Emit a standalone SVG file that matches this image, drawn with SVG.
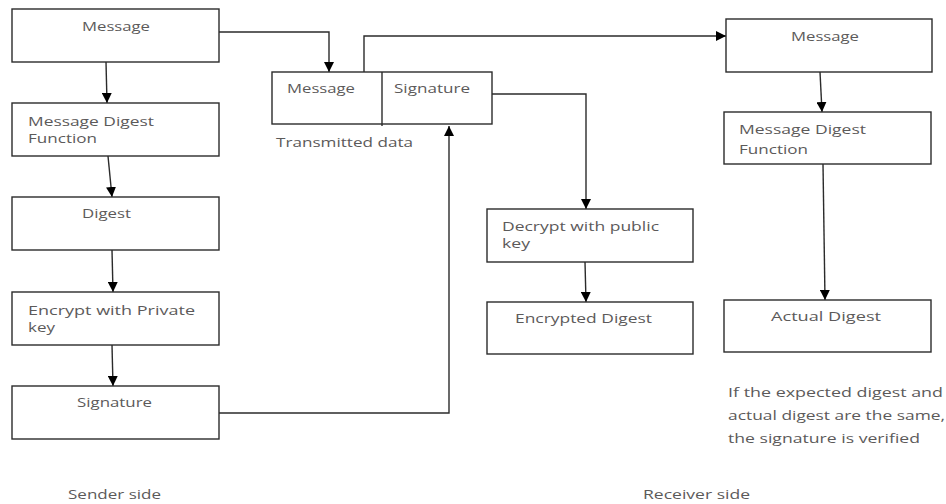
<svg xmlns="http://www.w3.org/2000/svg" width="946" height="504" viewBox="0 0 946 504">
<defs>
<marker id="ah" markerUnits="userSpaceOnUse" markerWidth="10" markerHeight="10" viewBox="0 0 10 10" refX="10" refY="5" orient="auto">
<path d="M0,0 L10,5 L0,10 Z" fill="#000"/>
</marker>
<style>
.box{fill:#fff;stroke:#2b2b2b;stroke-width:1.4}
.t{font-family:"Open Sans","Liberation Sans",sans-serif;font-size:13.5px;fill:#5c5a5a}
.c{fill:none;stroke:#2b2b2b;stroke-width:1.4;marker-end:url(#ah)}
.l{fill:none;stroke:#2b2b2b;stroke-width:1.4}
</style>
</defs>
<rect width="946" height="504" fill="#fff"/>
<g id="connectors">
<path class="c" d="M106,62 L107,103"/>
<path class="c" d="M108,156 L112,197"/>
<path class="c" d="M112,250 L113,292"/>
<path class="c" d="M112,345 L113,386"/>
<path class="c" d="M219,32 L329,32 L329,72"/>
<path class="c" d="M364,72 L364,36 L726,36"/>
<path class="c" d="M219,413 L449,413 L449,126"/>
<path class="c" d="M492,94 L586,94 L586,209"/>
<path class="c" d="M585,262 L586,302"/>
<path class="c" d="M820,72 L822,112"/>
<path class="c" d="M823,164 L825,300"/>
</g>
<g id="s-message">
<rect class="box" x="12" y="9" width="207" height="53"/>
<text class="t" x="82" y="31" textLength="68" lengthAdjust="spacingAndGlyphs">Message</text>
</g>
<g id="s-mdf">
<rect class="box" x="12" y="103" width="207" height="53"/>
<text class="t" x="28" y="126" textLength="126" lengthAdjust="spacingAndGlyphs">Message Digest</text>
<text class="t" x="28" y="143" textLength="69" lengthAdjust="spacingAndGlyphs">Function</text>
</g>
<g id="s-digest">
<rect class="box" x="12" y="197" width="207" height="53"/>
<text class="t" x="82" y="218" textLength="49" lengthAdjust="spacingAndGlyphs">Digest</text>
</g>
<g id="s-encrypt">
<rect class="box" x="12" y="292" width="207" height="53"/>
<text class="t" x="28" y="315" textLength="167" lengthAdjust="spacingAndGlyphs">Encrypt  with  Private</text>
<text class="t" x="28" y="332" textLength="27" lengthAdjust="spacingAndGlyphs">key</text>
</g>
<g id="s-signature">
<rect class="box" x="12" y="386" width="207" height="53"/>
<text class="t" x="77" y="407" textLength="75" lengthAdjust="spacingAndGlyphs">Signature</text>
</g>
<g id="transmitted">
<rect class="box" x="272" y="72" width="220" height="52"/>
<line class="l" x1="382" y1="72" x2="382" y2="126"/>
<text class="t" x="287" y="93" textLength="68" lengthAdjust="spacingAndGlyphs">Message</text>
<text class="t" x="394" y="93" textLength="76" lengthAdjust="spacingAndGlyphs">Signature</text>
<text class="t" x="276" y="147" textLength="137" lengthAdjust="spacingAndGlyphs">Transmitted  data</text>
</g>
<g id="r-decrypt">
<rect class="box" x="487" y="209" width="206" height="53"/>
<text class="t" x="502" y="231" textLength="157" lengthAdjust="spacingAndGlyphs">Decrypt with  public</text>
<text class="t" x="502" y="248" textLength="28" lengthAdjust="spacingAndGlyphs">key</text>
</g>
<g id="r-encdigest">
<rect class="box" x="487" y="302" width="206" height="52"/>
<text class="t" x="515" y="323" textLength="137" lengthAdjust="spacingAndGlyphs">Encrypted Digest</text>
</g>
<g id="r-message">
<rect class="box" x="726" y="19" width="206" height="53"/>
<text class="t" x="791" y="41" textLength="68" lengthAdjust="spacingAndGlyphs">Message</text>
</g>
<g id="r-mdf">
<rect class="box" x="724" y="112" width="207" height="52"/>
<text class="t" x="739" y="134" textLength="127" lengthAdjust="spacingAndGlyphs">Message  Digest</text>
<text class="t" x="739" y="154" textLength="69" lengthAdjust="spacingAndGlyphs">Function</text>
</g>
<g id="r-actual">
<rect class="box" x="724" y="300" width="207" height="52"/>
<text class="t" x="771" y="321" textLength="110" lengthAdjust="spacingAndGlyphs">Actual  Digest</text>
</g>
<g id="notes">
<text class="t" x="728" y="397" textLength="215" lengthAdjust="spacingAndGlyphs">If  the  expected digest and</text>
<text class="t" x="728" y="420" textLength="217" lengthAdjust="spacingAndGlyphs">actual  digest are the same,</text>
<text class="t" x="728" y="443" textLength="192" lengthAdjust="spacingAndGlyphs">the signature  is verified</text>
<text class="t" x="68" y="499" textLength="93" lengthAdjust="spacingAndGlyphs">Sender side</text>
<text class="t" x="643" y="499" textLength="107" lengthAdjust="spacingAndGlyphs">Receiver side</text>
</g>
</svg>
